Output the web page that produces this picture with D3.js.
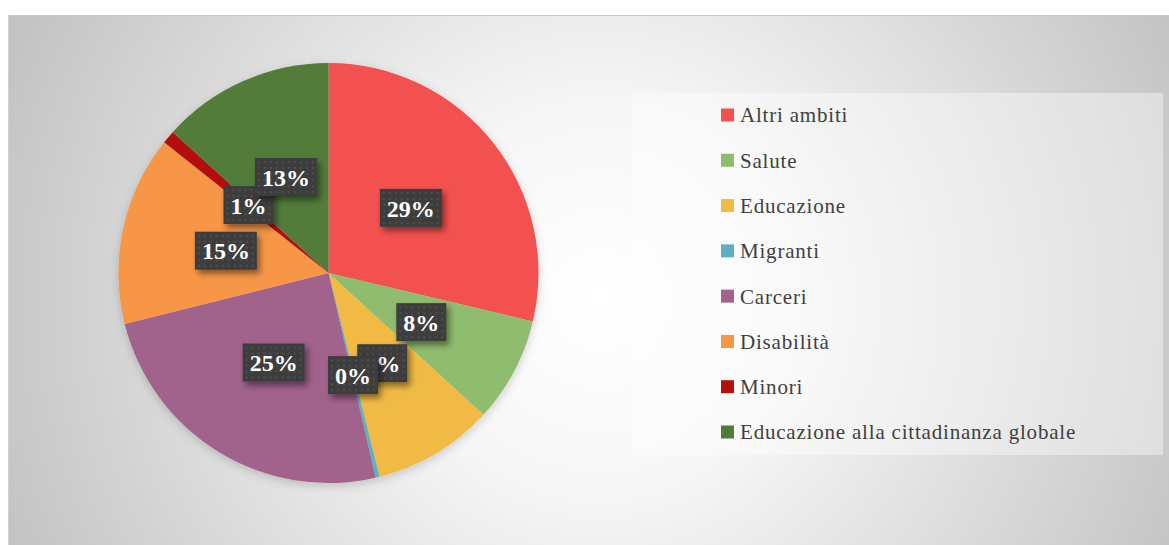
<!DOCTYPE html>
<html>
<head>
<meta charset="utf-8">
<script src="https://cdn.jsdelivr.net/npm/d3@7"></script>
<style>
  body { margin: 0; background: #fff; }
  svg { display: block; }
</style>
</head>
<body>
<div id="chart"></div>
<script>
const categories = ['Altri ambiti', 'Salute', 'Educazione', 'Migranti', 'Carceri', 'Disabilità', 'Minori', 'Educazione alla cittadinanza globale'];
const values = [28.7, 8.1, 9.3, 0.3, 24.7, 14.6, 1.0, 13.3];
const colors = ['#F35150', '#8FBC6E', '#F0BA44', '#5FAFC3', '#A1628C', '#F79646', '#B40E0E', '#527B3B'];

const width = 1169, height = 545;
const font = "'Liberation Serif', 'DejaVu Serif', serif";

const data = categories.map((c, i) => ({ category: c, value: values[i], color: colors[i] }));

const svg = d3.select('#chart').append('svg')
  .attr('width', width)
  .attr('height', height);

const defs = svg.append('defs');

// background gradient
const bg = defs.append('radialGradient')
  .attr('id', 'bg')
  .attr('gradientUnits', 'userSpaceOnUse')
  .attr('cx', 600).attr('cy', 300).attr('r', 650);
bg.append('stop').attr('offset', '0').attr('stop-color', '#ffffff');
bg.append('stop').attr('offset', '0.3').attr('stop-color', '#f6f6f6');
bg.append('stop').attr('offset', '1').attr('stop-color', '#c2c2c2');

// dotted texture for the labels
const pat = defs.append('pattern')
  .attr('id', 'dots')
  .attr('patternUnits', 'userSpaceOnUse')
  .attr('width', 6).attr('height', 6);
pat.append('rect').attr('width', 6).attr('height', 6).attr('fill', '#3e3e3e');
pat.append('rect').attr('x', 2).attr('y', 2).attr('width', 2).attr('height', 2).attr('fill', '#4d4d4d');

const shadow = defs.append('filter').attr('id', 'shadow')
  .attr('x', '-30%').attr('y', '-30%').attr('width', '160%').attr('height', '170%');
shadow.append('feDropShadow')
  .attr('dx', 3).attr('dy', 4).attr('stdDeviation', 3)
  .attr('flood-color', '#000').attr('flood-opacity', 0.45);

const pieShadow = defs.append('filter').attr('id', 'pieShadow')
  .attr('x', '-20%').attr('y', '-20%').attr('width', '140%').attr('height', '140%');
pieShadow.append('feDropShadow')
  .attr('dx', 0).attr('dy', 3).attr('stdDeviation', 5)
  .attr('flood-color', '#000').attr('flood-opacity', 0.18);

// chart area
svg.append('rect')
  .attr('x', 8).attr('y', 15)
  .attr('width', width - 8).attr('height', height - 15)
  .attr('fill', 'url(#bg)');
svg.append('line')
  .attr('x1', 8).attr('x2', width)
  .attr('y1', 15.5).attr('y2', 15.5)
  .attr('stroke', '#c8c8c8');
svg.append('line')
  .attr('x1', 8.5).attr('x2', 8.5)
  .attr('y1', 15).attr('y2', height)
  .attr('stroke', '#d0d0d0');

// pie
const cx = 328.5, cy = 273, radius = 210;

const pie = d3.pie().sort(null).value(d => d.value);
const arc = d3.arc().innerRadius(0).outerRadius(radius);
const arcs = pie(data);

const g = svg.append('g')
  .attr('transform', `translate(${cx},${cy})`);

g.append('g')
  .attr('filter', 'url(#pieShadow)')
  .selectAll('path')
  .data(arcs)
  .enter()
  .append('path')
    .attr('d', arc)
    .attr('fill', d => d.data.color);

// data labels
const labels = g.selectAll('.lbl')
  .data(arcs)
  .enter()
  .append('g')
    .attr('class', 'lbl')
    .attr('transform', d => `translate(${arc.centroid(d)})`);

labels.each(function(d) {
  const lg = d3.select(this);
  const txt = Math.round(d.data.value) + '%';
  const t = lg.append('text')
    .attr('text-anchor', 'middle')
    .attr('dy', '0.36em')
    .attr('font-family', font)
    .attr('font-weight', 'bold')
    .attr('font-size', 24)
    .attr('fill', '#fff')
    .text(txt);
  const w = t.node().getComputedTextLength() + 14;
  lg.insert('rect', 'text')
    .attr('x', -w / 2).attr('y', -19)
    .attr('width', w).attr('height', 38)
    .attr('fill', 'url(#dots)')
    .attr('filter', 'url(#shadow)');
});

// legend
const legend = svg.append('g');
legend.append('rect')
  .attr('x', 632).attr('y', 93)
  .attr('width', 531).attr('height', 362)
  .attr('fill', '#fff')
  .attr('fill-opacity', 0.4);

const ly = d3.scalePoint()
  .domain(categories)
  .range([115, 432]);

const items = legend.selectAll('.item')
  .data(data)
  .enter()
  .append('g')
    .attr('class', 'item')
    .attr('transform', d => `translate(721,${ly(d.category)})`);

items.append('rect')
  .attr('x', 0).attr('y', -6.5)
  .attr('width', 13).attr('height', 13)
  .attr('fill', d => d.color);

items.append('text')
  .attr('x', 19)
  .attr('dy', '0.35em')
  .attr('font-family', font)
  .attr('font-size', 21)
  .attr('letter-spacing', 0.8)
  .attr('fill', '#404040')
  .text(d => d.category);
</script>
</body>
</html>
